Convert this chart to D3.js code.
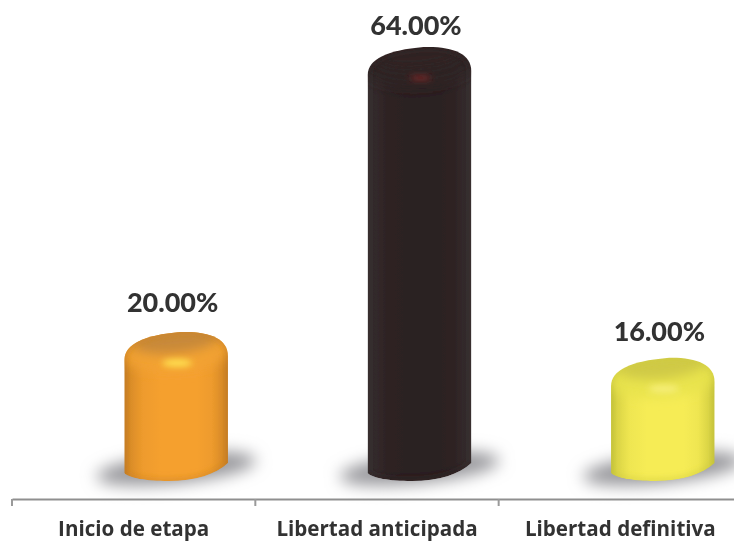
<!DOCTYPE html>
<html><head><meta charset="utf-8">
<script src="https://cdn.jsdelivr.net/npm/d3@7"></script>
<style>html,body{margin:0;padding:0;background:#fff;overflow:hidden}svg{display:block}</style>
</head><body><svg id="c" width="734" height="541"></svg>
<script>
const categories = ["Inicio de etapa", "Libertad anticipada", "Libertad definitiva"];
const values = [20, 64, 16];
const valueLabels = ["20.00%", "64.00%", "16.00%"];
const palettes = [
  {edge:"#c67d24", mid:"#f5a02f", cap:"#c4873a", shoulder:"#f2a232", glow:"#ffe04f", low:"#c27a22"},
  {edge:"#3b3435", mid:"#2c2021", cap:"#2f2425", shoulder:"#2f2425", glow:"#8f2527", low:"#2f2627"},
  {edge:"#c4c23a", mid:"#f6ec55", cap:"#cdc844", shoulder:"#e8e34e", glow:"#f6ee78", low:"#c8c53b"}
];
const W = 734, H = 541;
const svg = d3.select("#c");
const x = d3.scaleBand().domain(categories).range([12, 742]);
const y = d3.scaleLinear().domain([0, 64]).range([461.5, 47]);
const depthX = 42.5, depthY = 19.5, halfW = 51.8;
const defs = svg.append("defs");
const soft = defs.append("filter").attr("id","soft").attr("x","-5%").attr("y","-5%").attr("width","110%").attr("height","110%");
soft.append("feGaussianBlur").attr("stdDeviation",0.6);
const softT = defs.append("filter").attr("id","softT").attr("x","-5%").attr("y","-20%").attr("width","110%").attr("height","140%");
softT.append("feGaussianBlur").attr("stdDeviation",0.45);
const sh = defs.append("filter").attr("id","sh").attr("x","-30%").attr("y","-100%").attr("width","160%").attr("height","300%");
sh.append("feGaussianBlur").attr("stdDeviation",8);
const capB = defs.append("filter").attr("id","capB").attr("x","-30%").attr("y","-60%").attr("width","160%").attr("height","220%");
capB.append("feGaussianBlur").attr("stdDeviation",5.5);
const glowB = defs.append("filter").attr("id","glowB").attr("x","-60%").attr("y","-120%").attr("width","220%").attr("height","340%");
glowB.append("feGaussianBlur").attr("stdDeviation",3);

palettes.forEach((p,i)=>{
  const g = defs.append("linearGradient").attr("id","body"+i);
  const m = d3.interpolateRgb(p.edge, p.mid);
  [[0,0],[0.06,0.45],[0.18,0.85],[0.35,1],[0.7,1],[0.84,0.85],[0.94,0.45],[1,0]]
    .forEach(s=>g.append("stop").attr("offset",s[0]).attr("stop-color",m(s[1])));
  const c = defs.append("clipPath").attr("id","clip"+i);
  c.append("path").attr("d",barPath(i));
});

function barPath(i){
  const cx = x(categories[i]) + x.bandwidth()/2 + depthX;
  const T = y(values[i]), B = y(0) + depthY;
  const L = cx - halfW, R = cx + halfW;
  const p = d3.path();
  p.moveTo(L, T + 28);
  p.bezierCurveTo(L, T + 12, L + 20, T + 3, cx + 4, T);
  p.bezierCurveTo(cx + 32, T - 1, R, T + 6, R, T + 24);
  p.lineTo(R, B - 18);
  p.bezierCurveTo(R - 12, B - 7, cx + 20, B, cx - 8, B);
  p.bezierCurveTo(cx - 30, B, L + 4, B - 3, L, B - 8);
  p.closePath();
  return p.toString();
}

const shadows = svg.append("g");
shadows.selectAll("ellipse").data(categories).join("ellipse")
  .attr("cx",d=>x(d)+x.bandwidth()/2+depthX)
  .attr("cy",y(0)+7).attr("rx",80).attr("ry",15)
  .attr("fill","#97979b").attr("filter","url(#sh)")
  .attr("transform",d=>`rotate(-6 ${x(d)+x.bandwidth()/2+depthX} ${y(0)+7})`);

const bars = svg.append("g").attr("filter","url(#soft)");
categories.forEach((cat,i)=>{
  const p = palettes[i];
  const cx = x(cat)+x.bandwidth()/2+depthX, T = y(values[i]);
  const g = bars.append("g").attr("clip-path",`url(#clip${i})`);
  g.append("path").attr("d",barPath(i)).attr("fill",`url(#body${i})`);
  // soft rounded shoulder: the dome fades to the body colour
  g.append("ellipse").attr("cx",cx).attr("cy",T+18).attr("rx",halfW+6).attr("ry",22)
    .attr("fill",p.shoulder).attr("fill-opacity",0.85).attr("filter","url(#capB)").attr("transform",`rotate(-4 ${cx} ${T+18})`);
  // darker top of the dome
  g.append("ellipse").attr("cx",cx).attr("cy",T+8).attr("rx",44).attr("ry",13)
    .attr("fill",p.cap).attr("fill-opacity",0.92).attr("filter","url(#capB)").attr("transform",`rotate(-6 ${cx} ${T+8})`);
  // darker lip along the lower edge and the outline
  g.append("path").attr("d",barPath(i)).attr("fill","none").attr("stroke",p.low).attr("stroke-width",4)
    .attr("stroke-opacity",0.6).attr("filter","url(#glowB)");
  // highlight
  g.append("ellipse").attr("cx",cx+1).attr("cy",T+31).attr("rx",i===1?11:15).attr("ry",i===1?2:4)
    .attr("fill",p.glow).attr("filter","url(#glowB)");
});

const axis = d3.axisBottom(x).tickSize(0).tickPadding(0);
const axisG = svg.append("g").attr("transform","translate(0,499)").attr("filter","url(#softT)").call(axis);
axisG.select(".domain").attr("stroke","#8f8f8f").attr("stroke-width",2);
axisG.selectAll(".tick text").attr("y",37).attr("dy",0)
  .attr("font-family","'Open Sans', Lato, sans-serif").attr("font-weight",700).attr("font-size",20.6).attr("fill","#333");
axisG.selectAll("line.edge").data(categories).join("line").attr("class","edge")
  .attr("x1",d=>x(d)).attr("x2",d=>x(d)).attr("y1",0).attr("y2",7).attr("stroke","#9a9a9a").attr("stroke-width",2);

const labelDy = [20, 12, 17];
svg.append("g").attr("filter","url(#softT)").selectAll("text").data(categories).join("text")
  .attr("x",d=>x(d)+x.bandwidth()/2+depthX-3.5)
  .attr("y",(d,i)=>y(values[i])-labelDy[i])
  .attr("text-anchor","middle").attr("font-family","Lato, 'Open Sans', sans-serif")
  .attr("font-weight",900).attr("font-size",27).attr("fill","#333")
  .text((d,i)=>valueLabels[i]);
</script></body></html>
